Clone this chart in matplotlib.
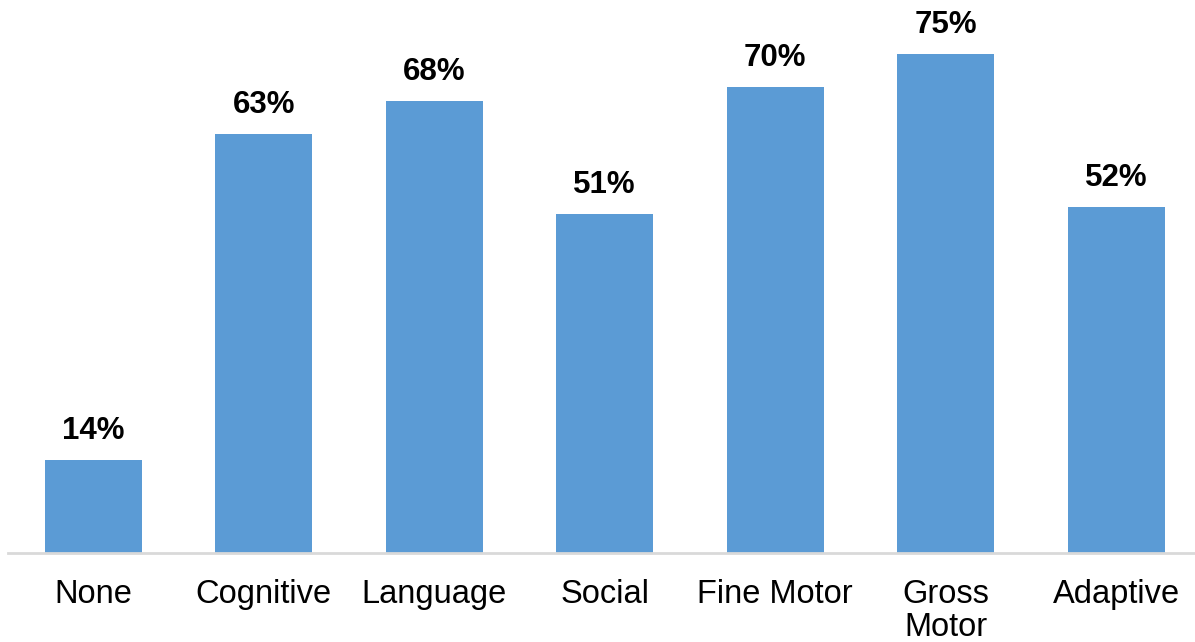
import matplotlib
matplotlib.use("Agg")
import matplotlib.pyplot as plt

categories = ["None", "Cognitive", "Language", "Social", "Fine Motor", "Gross\nMotor", "Adaptive"]
values = [14, 63, 68, 51, 70, 75, 52]
labels = ["14%", "63%", "68%", "51%", "70%", "75%", "52%"]

plt.rcParams['font.family'] = ['Liberation Sans', 'DejaVu Sans']

W, H = 1195, 642
fig = plt.figure(figsize=(W / 100, H / 100), dpi=100)
# baseline at y=553 px, 6.653 px per percent, categories 170.5 px apart starting at x=8
base = 553
ymax = 80
ppu = 6.653
ax = fig.add_axes([8 / W, (H - base) / H, 7 * 170.5 / W, ymax * ppu / H])

x = range(len(categories))
ax.bar(x, values, width=0.57, color="#5B9BD5")
for xi, v, lab in zip(x, values, labels):
    ax.annotate(lab, (xi, v), xytext=(0, 10), textcoords="offset points",
                ha="center", va="bottom", fontsize=22.5, fontweight="bold")

ax.set_xlim(-0.5, 6.5)
ax.set_ylim(0, ymax)
ax.set_xticks(list(x))
ax.set_xticklabels(categories, fontsize=23.5, linespacing=1.08, va="top")
ax.tick_params(axis="x", length=0, pad=18.5)
ax.set_yticks([])
for s in ["top", "right", "left"]:
    ax.spines[s].set_visible(False)
ax.spines["bottom"].set_color("#D9D9D9")
ax.spines["bottom"].set_linewidth(2)

fig.savefig("out.png", dpi=100)
